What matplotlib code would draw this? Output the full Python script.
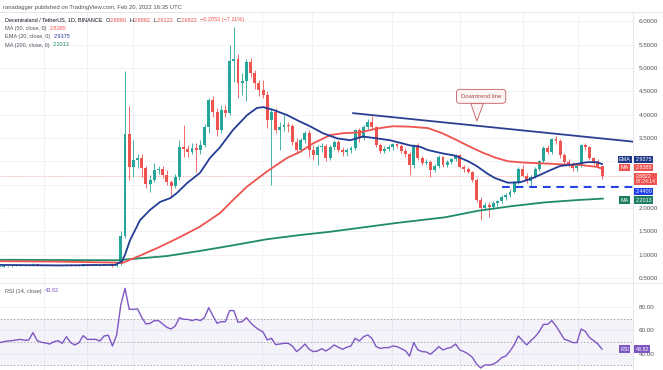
import numpy as np
import matplotlib.pyplot as plt
from matplotlib.lines import Line2D
from matplotlib.transforms import blended_transform_factory

plt.rcParams["font.family"] = ["Liberation Sans", "DejaVu Sans"]

# daily MANA/USDT candles (index 0 = first visible day)
opens = [0.735, 0.745, 0.750, 0.752, 0.757, 0.762, 0.768, 0.760, 0.764, 0.800,
         0.772, 0.766, 0.761, 0.755, 0.764, 0.769, 0.757, 0.787, 0.767, 0.756,
         0.766, 0.792, 0.782, 0.780, 0.781, 0.775, 0.797, 0.800, 0.752, 0.80,
         1.40, 3.58, 2.88, 3.03, 3.08, 2.86, 2.51, 2.60, 2.81, 2.84,
         2.70, 2.55, 2.47, 2.66, 3.30, 3.26, 3.20, 3.28, 3.24, 3.35,
         3.73, 4.31, 4.06, 3.67, 4.10, 4.03, 5.15, 5.20, 4.68, 4.72,
         5.13, 4.88, 4.67, 4.53, 4.42, 3.89, 4.05, 3.67, 3.74, 3.78,
         3.75, 3.41, 3.24, 3.45, 3.60, 3.25, 3.13, 3.30, 3.32, 3.08,
         3.30, 3.41, 3.25, 3.19, 3.24, 3.28, 3.66, 3.49, 3.73, 3.84,
         3.73, 3.34, 3.23, 3.27, 3.30, 3.36, 3.32, 3.23, 3.16, 2.92,
         3.34, 3.06, 2.97, 2.99, 2.81, 2.90, 3.09, 2.92, 2.99, 3.04,
         3.13, 2.88, 2.83, 2.78, 2.60, 2.17, 2.00, 2.06, 2.03, 2.10,
         2.14, 2.24, 2.28, 2.35, 2.55, 2.83, 2.68, 2.57, 2.67, 2.84,
         3.00, 3.29, 3.20, 3.48, 3.44, 3.13, 2.99, 2.93, 2.86, 2.90,
         3.34, 3.31, 3.06, 2.99, 2.888]
highs = [0.750, 0.760, 0.765, 0.770, 0.775, 0.780, 0.775, 0.775, 0.820, 0.805,
         0.780, 0.775, 0.770, 0.775, 0.775, 0.775, 0.800, 0.790, 0.775, 0.775,
         0.800, 0.800, 0.790, 0.790, 0.790, 0.810, 0.810, 0.805, 0.840, 1.50,
         4.93, 4.18, 3.45, 3.15, 3.15, 2.90, 2.70, 2.96, 2.90, 2.90,
         2.82, 2.60, 2.72, 3.45, 3.78, 3.35, 3.40, 3.40, 3.45, 3.80,
         4.35, 4.40, 4.15, 4.20, 4.20, 5.49, 5.88, 5.30, 4.90, 5.20,
         5.22, 4.95, 4.75, 4.74, 4.50, 4.15, 4.13, 3.85, 3.99, 3.85,
         3.80, 3.50, 3.50, 3.65, 3.66, 3.35, 3.35, 3.40, 3.38, 3.35,
         3.45, 3.45, 3.30, 3.28, 3.32, 3.70, 3.72, 3.78, 3.90, 3.96,
         3.76, 3.40, 3.32, 3.35, 3.40, 3.40, 3.36, 3.28, 3.20, 3.38,
         3.40, 3.12, 3.05, 3.02, 2.95, 3.14, 3.12, 3.02, 3.08, 3.16,
         3.16, 2.93, 2.88, 2.80, 2.64, 2.24, 2.12, 2.12, 2.14, 2.18,
         2.28, 2.32, 2.40, 2.58, 2.88, 2.92, 2.74, 2.70, 2.88, 3.03,
         3.32, 3.35, 3.50, 3.55, 3.47, 3.18, 3.04, 2.98, 2.97, 3.37,
         3.40, 3.33, 3.10, 3.05, 2.8882]
lows = [0.720, 0.735, 0.740, 0.745, 0.750, 0.755, 0.755, 0.750, 0.760, 0.765,
        0.760, 0.755, 0.750, 0.750, 0.755, 0.750, 0.755, 0.760, 0.750, 0.750,
        0.760, 0.775, 0.770, 0.770, 0.765, 0.770, 0.785, 0.740, 0.745, 0.78,
        1.35, 2.60, 2.66, 2.85, 2.66, 2.43, 2.34, 2.55, 2.72, 2.65,
        2.50, 2.23, 2.42, 2.60, 3.10, 3.10, 3.15, 2.77, 3.15, 3.30,
        3.60, 3.95, 3.55, 3.60, 3.95, 3.98, 4.70, 4.35, 4.42, 4.28,
        4.80, 4.55, 4.40, 4.35, 3.71, 2.49, 3.60, 3.24, 3.65, 3.62,
        3.35, 3.15, 3.20, 3.40, 3.10, 3.03, 2.92, 3.20, 3.00, 3.02,
        3.25, 3.20, 3.12, 3.12, 3.18, 3.25, 3.42, 3.45, 3.68, 3.70,
        3.30, 3.18, 3.17, 3.22, 3.25, 3.28, 3.18, 3.10, 2.70, 2.85,
        3.02, 2.92, 2.92, 2.67, 2.76, 2.86, 2.88, 2.88, 2.95, 3.00,
        2.86, 2.78, 2.74, 2.56, 2.12, 1.74, 1.95, 1.80, 1.98, 2.05,
        2.10, 2.18, 2.24, 2.32, 2.52, 2.66, 2.54, 2.46, 2.64, 2.80,
        2.97, 3.15, 3.16, 3.36, 3.08, 2.95, 2.88, 2.80, 2.80, 2.88,
        3.25, 3.02, 2.94, 2.85, 2.6122]
closes = [0.745, 0.750, 0.752, 0.757, 0.762, 0.768, 0.760, 0.764, 0.800, 0.772,
          0.766, 0.761, 0.755, 0.764, 0.769, 0.757, 0.787, 0.767, 0.756, 0.766,
          0.792, 0.782, 0.780, 0.781, 0.775, 0.797, 0.800, 0.752, 0.800, 1.40,
          3.58, 2.88, 3.03, 3.08, 2.86, 2.51, 2.60, 2.81, 2.84, 2.70,
          2.55, 2.47, 2.66, 3.30, 3.26, 3.20, 3.28, 3.24, 3.35, 3.73,
          4.31, 4.06, 3.67, 4.10, 4.03, 5.15, 5.20, 4.68, 4.72, 5.13,
          4.88, 4.67, 4.53, 4.42, 3.89, 4.05, 3.67, 3.74, 3.78, 3.75,
          3.41, 3.24, 3.45, 3.60, 3.25, 3.13, 3.30, 3.32, 3.08, 3.30,
          3.41, 3.25, 3.19, 3.24, 3.28, 3.66, 3.49, 3.73, 3.84, 3.73,
          3.34, 3.23, 3.27, 3.30, 3.36, 3.32, 3.23, 3.16, 2.92, 3.34,
          3.06, 2.97, 2.99, 2.81, 2.90, 3.09, 2.92, 2.99, 3.04, 3.13,
          2.88, 2.83, 2.78, 2.60, 2.17, 2.00, 2.06, 2.03, 2.10, 2.14,
          2.24, 2.28, 2.35, 2.55, 2.83, 2.68, 2.57, 2.67, 2.84, 3.00,
          3.29, 3.20, 3.48, 3.44, 3.13, 2.99, 2.93, 2.86, 2.90, 3.34,
          3.31, 3.06, 2.99, 2.888, 2.6822]

rsi = [49.4, 50.2, 50.8, 51.1, 51.7, 52.2, 51.4, 51.7, 58.0, 51.1,
       49.7, 49.1, 48.2, 50.2, 51.1, 48.8, 54.5, 49.4, 47.4, 49.4,
       55.4, 52.2, 52.2, 52.2, 50.8, 55.1, 55.7, 46.5, 56.0, 82.0,
       96.0, 78.0, 78.0, 78.3, 71.0, 65.4, 66.0, 68.3, 68.3, 65.4,
       62.5, 61.1, 63.7, 70.8, 69.4, 69.4, 68.3, 69.4, 68.3, 71.0,
       79.4, 72.5, 66.0, 67.4, 67.4, 76.9, 76.9, 66.9, 67.4, 70.8,
       66.6, 63.1, 60.5, 58.5, 51.7, 53.1, 47.7, 48.2, 48.8, 48.8,
       46.5, 41.7, 44.5, 48.2, 43.7, 41.7, 42.2, 44.2, 42.2, 44.5,
       47.4, 45.4, 43.7, 45.4, 46.5, 53.1, 50.8, 54.5, 56.0, 53.1,
       46.0, 44.5, 45.1, 45.1, 46.5, 46.0, 44.2, 42.5, 37.9, 49.4,
       43.1, 41.7, 41.4, 39.4, 42.5, 46.0, 43.1, 44.5, 45.4, 48.2,
       43.1, 41.7, 39.7, 36.8, 31.1, 27.6, 30.2, 30.2, 30.8, 33.1,
       36.5, 37.9, 42.2, 47.4, 55.1, 51.1, 47.4, 51.1, 54.5, 58.8,
       65.1, 65.1, 68.3, 63.7, 58.0, 52.2, 51.1, 49.4, 49.4, 61.1,
       59.1, 53.7, 51.1, 48.2, 43.82]

# moving averages, read at points along each line (x = candle index)
ema20_x = [0.1, 14.5, 27.6, 29.3, 30, 31.2, 33.6, 36, 38.4, 40.8, 42.4, 44.8,
           47.9, 50.3, 52.7, 55.8, 59.2, 61.5, 63, 65.4, 68.7, 71.8, 74.2,
           77.3, 80.7, 83.8, 86.9, 90.2, 93.3, 96.4, 98.1, 100.5, 102.4,
           105.8, 108.9, 112, 114, 116.5, 118.4, 121.5, 124.4, 127.5, 130.9,
           134, 137.1, 140.4, 142.8, 144]
ema20_y = [0.78, 0.77, 0.78, 0.86, 1.0, 1.31, 1.74, 1.96, 2.13, 2.21, 2.32, 2.53,
           2.75, 3.07, 3.3, 3.67, 3.99, 4.14, 4.16, 4.1, 3.99, 3.85, 3.75,
           3.6, 3.49, 3.45, 3.53, 3.49, 3.45, 3.38, 3.34, 3.31, 3.24,
           3.17, 3.12, 3.0, 2.9, 2.74, 2.64, 2.54, 2.55, 2.64, 2.78,
           2.9, 2.93, 2.98, 2.98, 2.94]
ma50_x = [0.1, 14.5, 27.6, 29.3, 33.6, 38.4, 43.2, 47.9, 52.7, 55.8, 59.2, 63.9,
          68.7, 71.8, 74.9, 79, 82.1, 86.2, 90.2, 94, 98.1, 102.4, 105.8,
          108.9, 112, 115.3, 118.4, 121.5, 125.6, 130.9, 134.9, 138.7, 142.8, 144]
ma50_y = [0.86, 0.85, 0.83, 0.82, 0.98, 1.17, 1.38, 1.6, 1.89, 2.17, 2.46, 2.78,
          3.07, 3.2, 3.38, 3.56, 3.6, 3.62, 3.7, 3.75, 3.74, 3.71, 3.6,
          3.47, 3.33, 3.19, 3.08, 3.0, 2.97, 2.95, 2.93, 2.92, 2.88, 2.84]
ma200_x = [0.1, 28, 40, 47.9, 55.8, 63.9, 71.8, 79, 95, 106.5, 114.4, 122.5,
           130.4, 138.3, 144.2]
ma200_y = [0.89, 0.88, 0.97, 1.08, 1.2, 1.33, 1.42, 1.49, 1.68, 1.8, 1.94, 2.04,
           2.12, 2.17, 2.2]

trend_x = [84.5, 151.4]
trend_y = [4.03, 3.42]
support_x = [120.0, 151.4]
support_y = [2.44, 2.44]
day_lines = [10.6, 20.9, 31.9, 62.7, 74.7, 93.8, 110.1, 125.1, 138.3]

# price levels; 2.5 and 3.0 sit under the value tags, so no label there
price_ticks = [0.5, 1.0, 1.5, 2.0, 2.5, 3.0, 3.5, 4.0, 4.5, 5.0, 5.5, 6.0]
hidden_ticks = [2.5, 3.0]

last_ma50 = 2.8365
last_ema20 = 2.9375
last_ma200 = 2.2013
last_close = 2.6822
support_level = 2.44

UP = "#26a69a"
DOWN = "#ef5350"
EMA_C = "#233d96"
MA50_C = "#f0524d"
MA200_C = "#1f8b6c"
RSI_C = "#7e57c2"
GRID = "#eef0f5"
SEP = "#dfe2ea"

W, H = 663, 370
fig = plt.figure(figsize=(W / 100, H / 100), dpi=100)
ax = fig.add_axes([0, 87 / H, 633 / W, 271 / H])
ax_r = fig.add_axes([0, 0, 633 / W, 87 / H], sharex=ax)

x = np.arange(len(closes))
o = np.array(opens)
h = np.array(highs)
l = np.array(lows)
c = np.array(closes)
col = np.where(c >= o, UP, DOWN)

ax.vlines(x, l, h, colors=col, lw=0.6, zorder=3)
ax.bar(x, np.maximum(np.abs(c - o), 0.012), bottom=np.minimum(o, c), width=0.7,
       color=col, linewidth=0, zorder=4)

ax.plot(ma200_x, ma200_y, color=MA200_C, lw=1.3, zorder=5)
ax.plot(ma50_x, ma50_y, color=MA50_C, lw=1.3, zorder=5)
ax.plot(ema20_x, ema20_y, color=EMA_C, lw=1.3, zorder=6)
ax.plot(trend_x, trend_y, color="#2e3f8f", lw=1.3, zorder=6)
ax.plot(support_x, support_y, color="#1f3fe8", lw=1.4, ls=(0, (4, 3)), zorder=6)
ax.axhline(last_close, color="#f6a3a1", lw=0.6, ls=(0, (1.5, 1.5)), zorder=2)

ax.annotate("Downtrend line", xy=(114.1, 3.86), xytext=(115.1, 4.39),
            ha="center", va="center", fontsize=4.3, color="#a84a4a", zorder=8,
            bbox=dict(boxstyle="round,pad=0.75,rounding_size=0.6", fc="#fdf4f4",
                      ec="#c55c5c", lw=0.6),
            arrowprops=dict(arrowstyle="wedge,tail_width=0.9", mutation_scale=10,
                            fc="#fdf4f4", ec="#c55c5c", lw=0.6, relpos=(0.4, 0.0),
                            shrinkA=0, shrinkB=0))

ax.set_xlim(0.12, 151.4)
ax.set_ylim(0.393, 6.196)
ax.set_yticks(price_ticks)
ax.set_yticklabels(["" if v in hidden_ticks else f"{v:.4f}" for v in price_ticks])
ax.yaxis.tick_right()
ax.tick_params(axis="y", length=0, pad=4, labelsize=4.5, labelcolor="#50535e")
ax.tick_params(axis="x", bottom=False, labelbottom=False)
ax.grid(axis="y", color=GRID, lw=0.6, zorder=0)
ax.set_axisbelow(True)

ax_r.plot(x, rsi, color=RSI_C, lw=1.0, zorder=4)
ax_r.axhspan(30, 70, color=RSI_C, alpha=0.07, lw=0)
for v in (70, 50, 30):
    ax_r.axhline(v, color="#a3a6af", lw=0.6, ls=(0, (2, 2)), zorder=2)
ax_r.set_ylim(25.9, 100.6)
ax_r.set_yticks([40, 60, 80])
ax_r.set_yticklabels(["40.00", "60.00", "80.00"])
ax_r.yaxis.tick_right()
ax_r.tick_params(axis="y", length=0, pad=4, labelsize=4.5, labelcolor="#50535e")
ax_r.tick_params(axis="x", bottom=False, labelbottom=False)
ax_r.grid(axis="y", color=GRID, lw=0.6, zorder=0)
ax_r.set_axisbelow(True)

for a in (ax, ax_r):
    for s in a.spines.values():
        s.set_visible(False)
    for d in day_lines:
        a.axvline(d, color=GRID, lw=0.6, zorder=0)

# pane separators
fig.add_artist(Line2D([633 / W, 633 / W], [0, 1 - 12 / H], color=SEP, lw=0.6))
fig.add_artist(Line2D([0, 1], [87 / H, 87 / H], color=SEP, lw=0.6))
fig.add_artist(Line2D([0, 1], [1 - 12 / H, 1 - 12 / H], color=SEP, lw=0.6))


def tag(a, y, text, fc, label=None, size=3.9):
    tr = blended_transform_factory(a.transAxes, a.transData)
    a.text(1.004, y, text, transform=tr, ha="left", va="center", fontsize=size,
           color="white", zorder=20, clip_on=False, linespacing=1.0,
           bbox=dict(boxstyle="square,pad=0.22", fc=fc, ec="none"))
    if label:
        a.text(0.987, y, label, transform=tr, ha="center", va="center",
               fontsize=size, color="white", zorder=20, clip_on=False,
               bbox=dict(boxstyle="square,pad=0.22", fc=fc, ec="none"))


tag(ax, last_ema20 + 0.10, f"{last_ema20:.4f}", "#1e3787", "EMA")
tag(ax, last_ma50 + 0.025, f"{last_ma50:.4f}", "#ef5350", "MA")
tag(ax, last_close - 0.065, f"{last_close:.4f}\n07:24:14", "#ef5350", size=3.7)
tag(ax, support_level - 0.085, f"{support_level:.4f}", "#1f3fe8")
tag(ax, last_ma200 - 0.035, f"{last_ma200:.4f}", "#1b7d62", "MA")
tag(ax_r, rsi[-1], f"{rsi[-1]:.2f}", RSI_C, "RSI")


def chain(a, x0, y0, parts, size=4.0):
    t = a.text(x0, y0, parts[0][0], color=parts[0][1], fontsize=size,
               transform=a.transAxes, va="center", ha="left", zorder=20)
    for s, cc in parts[1:]:
        t = a.annotate(s, xycoords=t, xy=(1, 0), va="bottom", ha="left",
                       color=cc, fontsize=size, zorder=20)
    return t


DARK = "#131722"
GREY = "#50535e"
fig.text(3 / W, 1 - 7 / H, "ranadagger published on TradingView.com, Feb 20, 2022 16:35 UTC",
         fontsize=4.2, color=GREY, va="center", ha="left")

ax_h = 271
chain(ax, 5 / 633, 1 - 8 / ax_h,
      [("Decentraland / TetherUS, 1D, BINANCE  ", DARK), ("O", DARK), ("2.8880", DOWN),
       ("  H", DARK), ("2.8882", DOWN), ("  L", DARK), ("2.6122", DOWN),
       ("  C", DARK), ("2.6822", DOWN), ("  \u22120.2053 (\u22127.11%)", DOWN)])
chain(ax, 5 / 633, 1 - 16.3 / ax_h, [("MA (50, close, 0)  ", GREY), (f"{last_ma50:.4f}", MA50_C)])
chain(ax, 5 / 633, 1 - 24.7 / ax_h, [("EMA (20, close, 0)  ", GREY), (f"{last_ema20:.4f}", EMA_C)])
chain(ax, 5 / 633, 1 - 33 / ax_h, [("MA (200, close, 0)  ", GREY), (f"{last_ma200:.4f}", MA200_C)])
chain(ax_r, 5 / 633, 1 - 8 / 87, [("RSI (14, close)  ", GREY), (f"{rsi[-1]:.2f}", RSI_C)])

fig.savefig("out.png", dpi=100)
